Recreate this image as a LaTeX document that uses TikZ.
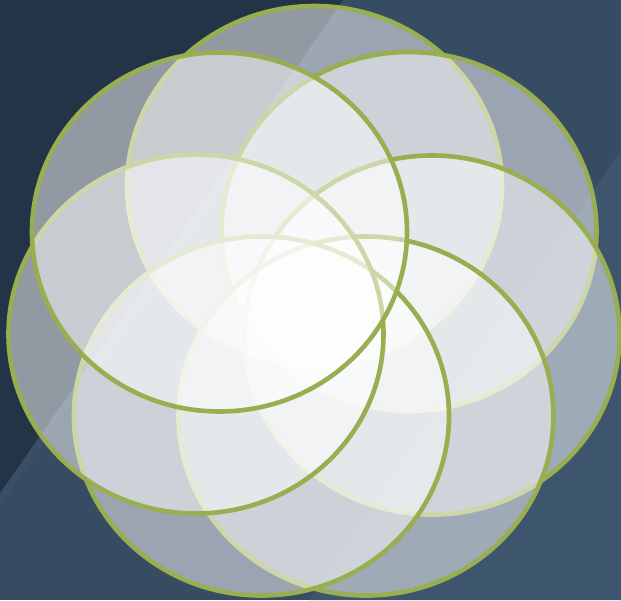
\documentclass[tikz,border=0pt]{standalone}
\definecolor{bgdark}{HTML}{243447}
\definecolor{bgmid}{HTML}{364C63}
\definecolor{bglight}{HTML}{3E566D}
\definecolor{bgstreak}{HTML}{394F66}
\definecolor{ringgreen}{HTML}{99AE50}
\tikzset{
  petal/.style={draw=ringgreen, line width=4.6pt, fill=white, fill opacity=0.5, draw opacity=1},
}
\begin{document}
\begin{tikzpicture}[x=1pt,y=-1pt]
\useasboundingbox (0,0) rectangle (621,600);
% background
\fill[bgmid] (0,0) rectangle (621,600);
\fill[bgstreak] (343,0) -- (353,0) -- (0,507) -- (0,493) -- cycle;
\fill[bgdark] (0,0) -- (343,0) -- (0,493) -- cycle;
\fill[bglight] (621,150) -- (621,600) -- (310,600) -- cycle;
% rings, drawn in order
\coordinate (T)  at (314.5,185.5);
\coordinate (UR) at (409,231.5);
\coordinate (MR) at (432,335);
\coordinate (BR) at (366,416);
\coordinate (BL) at (261.5,416);
\coordinate (ML) at (196,334);
\coordinate (UL) at (219.5,232);
\foreach \c in {T,UR,MR,BR,BL,ML,UL}{
  \draw[petal] (\c) ellipse [x radius=187.5, y radius=179.5];
}
\end{tikzpicture}
\end{document}
